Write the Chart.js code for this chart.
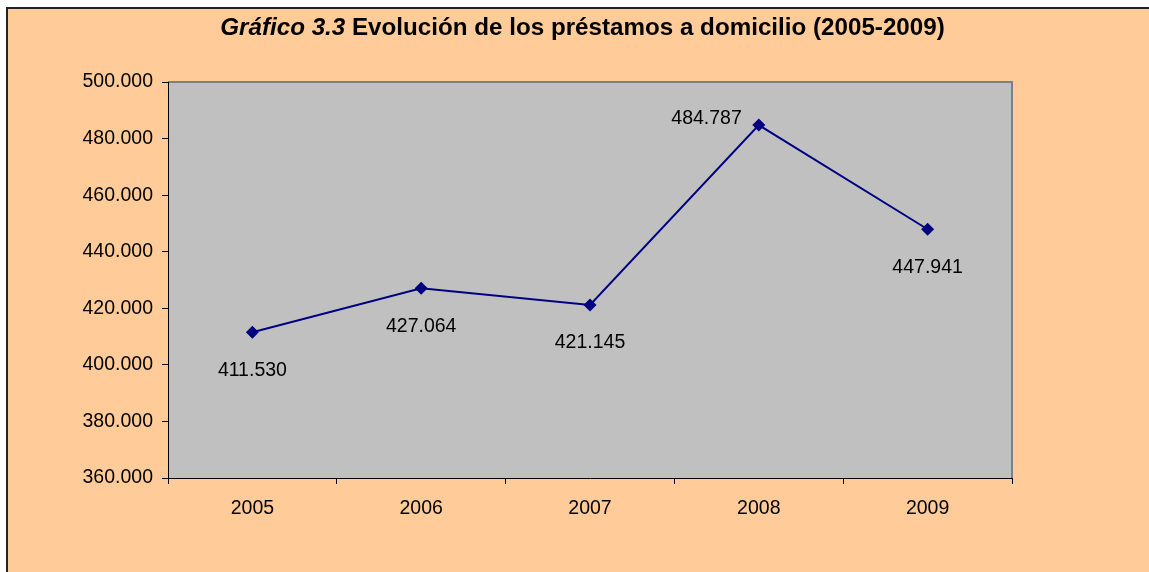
<!DOCTYPE html>
<html>
<head>
<meta charset="utf-8">
<script src="https://cdn.jsdelivr.net/npm/chart.js"></script>
<style>
  html,body{margin:0;padding:0;background:#fff;overflow:hidden;width:1149px;height:572px;}
  #frame{position:absolute;left:6px;top:7px;width:3000px;height:3000px;border-top:2px solid #222;border-left:2px solid #222;background:#FFCC99;}
  #lineChart{position:absolute;left:0;top:0;}
</style>
</head>
<body>
<div id="frame"><canvas id="lineChart" width="1141" height="563"></canvas></div>
<script>
var years=['2005','2006','2007','2008','2009'];
var prestamos=[411530,427064,421145,484787,447941];
var yTicks=[360000,380000,400000,420000,440000,460000,480000,500000];
var labelSide=['below','below','below','left','below'];

var FONT='"Liberation Sans", Arial, sans-serif';

function fmt(v){
  return String(v).replace(/\B(?=(\d{3})+(?!\d))/g,'.');
}

// gray plot area with its thin border
var plotBg={
  id:'plotBg',
  beforeDraw:function(chart){
    var a=chart.chartArea, ctx=chart.ctx;
    ctx.save();
    ctx.fillStyle='#C0C0C0';
    ctx.fillRect(a.left,a.top,a.right-a.left,a.bottom-a.top);
    ctx.strokeStyle='#808080';
    ctx.lineWidth=2;
    ctx.beginPath();
    ctx.moveTo(a.left,a.top);
    ctx.lineTo(a.right,a.top);
    ctx.lineTo(a.right,a.bottom);
    ctx.stroke();
    ctx.restore();
  }
};

// value labels next to each point
var dataLabels={
  id:'dataLabels',
  afterDatasetsDraw:function(chart){
    var ctx=chart.ctx;
    var meta=chart.getDatasetMeta(0);
    ctx.save();
    ctx.font='19.5px '+FONT;
    ctx.fillStyle='#000';
    ctx.textBaseline='middle';
    meta.data.forEach(function(pt,i){
      var txt=fmt(prestamos[i]);
      if(labelSide[i]=='left'){
        ctx.textAlign='right';
        ctx.fillText(txt,pt.x-17,pt.y-6);
      }else{
        ctx.textAlign='center';
        ctx.fillText(txt,pt.x,pt.y+38);
      }
    });
    ctx.restore();
  }
};

// title: italic part + bold part
var titlePlugin={
  id:'titlePlugin',
  afterDraw:function(chart){
    var ctx=chart.ctx;
    var p1='Gráfico 3.3 ', p2='Evolución de los préstamos a domicilio (2005-2009)';
    ctx.save();
    ctx.fillStyle='#000';
    ctx.textBaseline='alphabetic';
    ctx.textAlign='left';
    ctx.font='italic bold 24.2px '+FONT;
    var w1=ctx.measureText(p1).width;
    ctx.font='bold 24.2px '+FONT;
    var w2=ctx.measureText(p2).width;
    var x=574.5-(w1+w2)/2;
    ctx.font='italic bold 24.2px '+FONT;
    ctx.fillText(p1,x,26);
    ctx.font='bold 24.2px '+FONT;
    ctx.fillText(p2,x+w1,26);
    ctx.restore();
  }
};

var ctx=document.getElementById('lineChart').getContext('2d');
new Chart(ctx,{
  type:'line',
  data:{
    labels:years,
    datasets:[{
      data:prestamos,
      borderColor:'#000080',
      borderWidth:2,
      tension:0,
      pointStyle:'rectRot',
      pointRadius:6.5,
      pointBackgroundColor:'#000080',
      pointBorderColor:'#000080',
      pointBorderWidth:0
    }]
  },
  options:{
    responsive:false,
    animation:false,
    events:[],
    layout:{padding:{top:73,right:137,bottom:54,left:0}},
    plugins:{
      legend:{display:false},
      title:{display:false},
      tooltip:{enabled:false}
    },
    scales:{
      x:{
        offset:true,
        grid:{offset:true,drawOnChartArea:false,drawTicks:true,tickLength:6,color:'#000'},
        border:{color:'#000',width:1},
        ticks:{color:'#000',font:{family:FONT,size:19.5},padding:13,maxRotation:0},
        afterFit:function(s){s.height=40;}
      },
      y:{
        min:360000,
        max:500000,
        afterBuildTicks:function(s){s.ticks=yTicks.map(function(v){return {value:v};});},
        grid:{drawOnChartArea:false,drawTicks:true,tickLength:6,color:'#000'},
        border:{color:'#000',width:1},
        ticks:{color:'#000',font:{family:FONT,size:19.5},padding:9,callback:function(v){return fmt(v);}},
        afterFit:function(s){s.width=160;}
      }
    }
  },
  plugins:[plotBg,dataLabels,titlePlugin]
});
</script>
</body>
</html>
